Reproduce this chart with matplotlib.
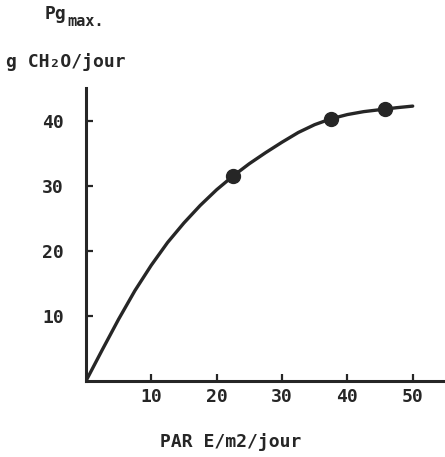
import matplotlib.pyplot as plt

# curve of Pg max against PAR
par = [0, 2.5, 5, 7.5, 10, 12.5, 15, 17.5, 20, 22.5, 25, 27.5, 30,
	32.5, 35, 37.5, 40, 42.5, 45, 47.5, 50]
pg = [0, 4.8, 9.5, 13.9, 17.8, 21.3, 24.3, 27.0, 29.4, 31.5, 33.4, 35.1, 36.7,
	38.2, 39.4, 40.3, 40.95, 41.4, 41.7, 42.0, 42.25]

# measured points
par_obs = [22.5, 37.5, 45.8]
pg_obs = [31.5, 40.3, 41.8]

xticks = [10, 20, 30, 40, 50]
yticks = [10, 20, 30, 40]

ink = '#262626'
font = 'DejaVu Sans Mono'

fig = plt.figure(figsize=(4.45, 4.57), dpi=100)
ax = fig.add_axes([0.193, 0.166, 0.802, 0.641])

ax.plot(par, pg, color=ink, lw=2.4, solid_capstyle='round', solid_joinstyle='round')
ax.plot(par_obs, pg_obs, 'o', color=ink, ms=10)

ax.set_xlim(0, 54.6)
ax.set_ylim(0, 45)
ax.set_xticks(xticks)
ax.set_yticks(yticks)

for s in ['top', 'right']:
	ax.spines[s].set_visible(False)
for s in ['left', 'bottom']:
	ax.spines[s].set_linewidth(2.2)
	ax.spines[s].set_color(ink)

ax.tick_params(axis='x', direction='in', length=5, width=1.6, color=ink, pad=5)
ax.tick_params(axis='y', direction='in', length=5, width=1.6, color=ink, pad=16)
for lab in ax.get_xticklabels() + ax.get_yticklabels():
	lab.set_fontfamily(font)
	lab.set_fontweight('bold')
	lab.set_fontsize(13)
	lab.set_color(ink)

# axis titles
fig.text(45 / 445, 1 - 14 / 457, 'Pg', family=font, weight='bold', fontsize=13,
	color=ink, va='center', ha='left')
fig.text(67 / 445, 1 - 22 / 457, 'max.', family=font, weight='bold', fontsize=11,
	color=ink, va='center', ha='left')
fig.text(6 / 445, 1 - 62 / 457, 'g CH\u2082O/jour', family=font, weight='bold',
	fontsize=13, color=ink, va='center', ha='left')
fig.text(231 / 445, 1 - 442 / 457, 'PAR E/m2/jour', family=font, weight='bold',
	fontsize=13, color=ink, va='center', ha='center')

fig.savefig('out.png', dpi=100)
